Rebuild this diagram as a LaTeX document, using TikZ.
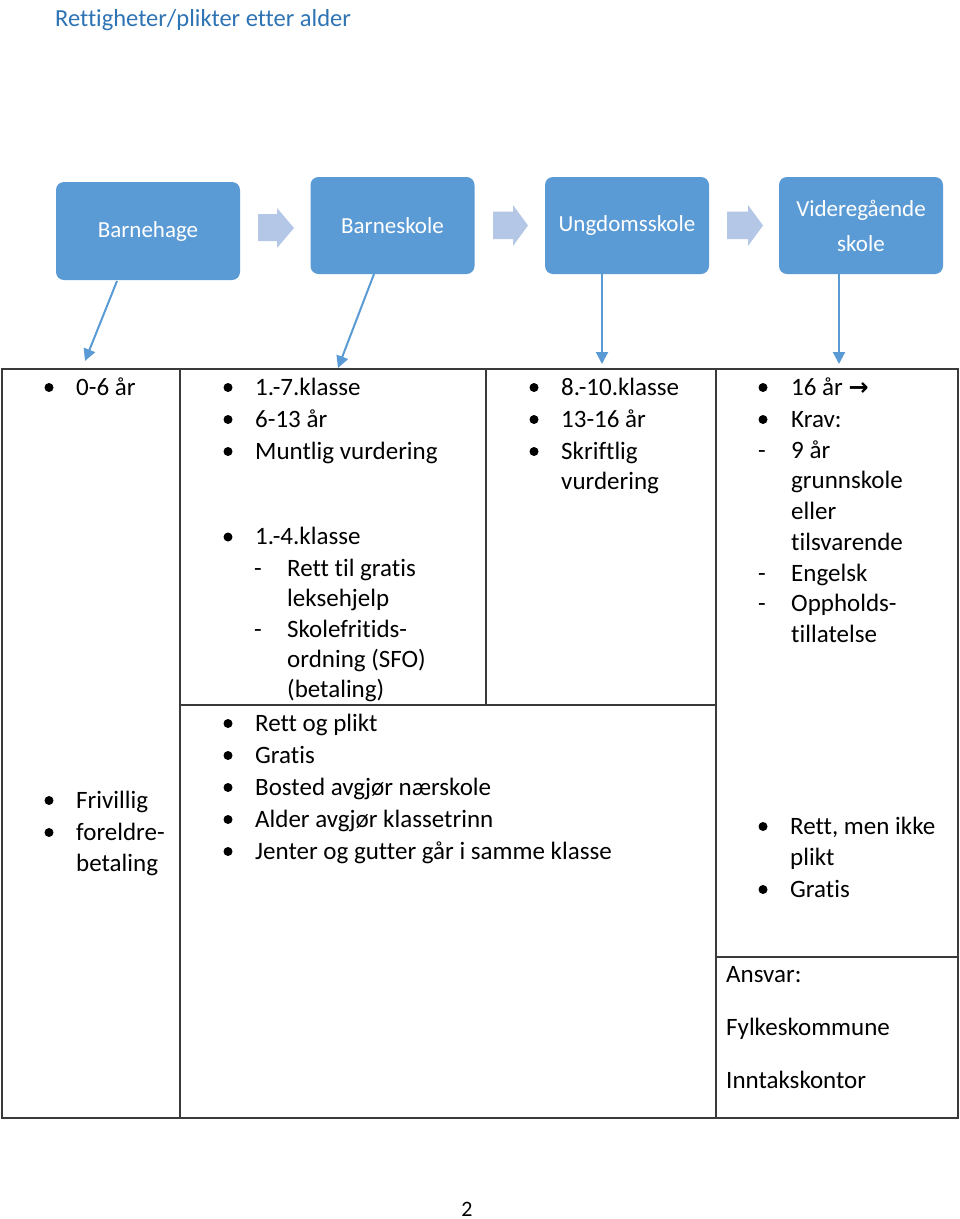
\documentclass[tikz,border=0pt]{standalone}
\usepackage{fontspec}
\setmainfont{Carlito}[Ligatures={NoCommon}]
\newfontfamily\dejavu{DejaVu Sans}
\usetikzlibrary{arrows.meta}
\definecolor{boxblue}{HTML}{5B9BD5}
\definecolor{lightblue}{HTML}{B4C7E7}
\definecolor{titleblue}{HTML}{2E74B5}
\definecolor{rule}{HTML}{3A3A3A}
\newcommand\bodyfont{\fontsize{25}{31}\selectfont}
\newcommand\boxfont{\fontsize{23}{35}\selectfont}
\begin{document}
\begin{tikzpicture}[x=1pt,y=-1pt,
  stage/.style={fill=boxblue, rounded corners=8pt, text=white, font=\boxfont, align=center, inner sep=0pt},
  blockarrow/.style={fill=lightblue, draw=none},
  thinarrow/.style={draw=boxblue, line width=2pt, -{Triangle[length=12pt,width=12pt]}},
  grid/.style={draw=rule, line width=1.3pt},
  txt/.style={anchor=base west, inner sep=0pt, font=\bodyfont},
  bul/.style={circle, fill=black, minimum size=9pt, inner sep=0pt},
  dsh/.style={anchor=base, inner sep=0pt, font=\bodyfont}]
\useasboundingbox (0,0) rectangle (960,1219);
\fill[white] (0,0) rectangle (960,1219);

% title
\node[txt, text=titleblue, font=\fontsize{24.5}{30}\selectfont] (title) at (55,26) {Rettigheter/plikter etter alder};

% stage boxes
\node[stage, minimum width=184pt, minimum height=98pt] (b1) at (148,231) {Barnehage};
\node[stage, minimum width=164pt, minimum height=97pt] (b2) at (392.5,225.5) {Barneskole};
\node[stage, minimum width=164pt, minimum height=97pt] (b3) at (627,225.5) {Ungdomsskole};
\node[stage, minimum width=164pt, minimum height=97pt] (b4) at (861,225.5) {Videregående\\skole};

% block arrows
\fill[blockarrow] (258,214) -- (277,214) -- (277,208) -- (294,228) -- (277,248) -- (277,241) -- (258,241) -- cycle;
\fill[blockarrow] (493,211.5) -- (513,211.5) -- (513,205) -- (528,225.5) -- (513,246) -- (513,239) -- (493,239) -- cycle;
\fill[blockarrow] (727,211.5) -- (748,211.5) -- (748,205) -- (763,225.5) -- (748,246) -- (748,239) -- (727,239) -- cycle;

% thin arrows
\coordinate (t1) at (85,361);
\coordinate (t2) at (338,368);
\coordinate (t3) at (602,364);
\coordinate (t4) at (839,364);
\draw[thinarrow] (117,281) -- (t1);
\draw[thinarrow] (374,274) -- (t2);
\draw[thinarrow] (b3.south -| t3) -- (t3);
\draw[thinarrow] (b4.south -| t4) -- (t4);

% table
\draw[grid] (2,369) rectangle (958,1118);
\draw[grid] (180,369) -- (180,1118);
\draw[grid] (716,369) -- (716,1118);
\draw[grid] (486,369) -- (486,705);
\draw[grid] (180,705) -- (716,705);
\draw[grid] (716,957) -- (958,957);

% column 1
\node[bul] (c1b1) at (49,387.5) {};
\node[txt] (c1t1) at (76,395) {0-6 år};
\node[bul] (c1b2) at (49,800.5) {};
\node[txt] (c1t2) at (76,808) {Frivillig};
\node[bul] (c1b3) at (49,832.5) {};
\node[txt] (c1t3) at (76,840) {foreldre-};
\node[txt] (c1t4) at (76,871) {betaling};

% column 2
\node[bul] (c2b1) at (228,387.5) {};
\node[txt] (c2t1) at (255,395) {1.-7.klasse};
\node[bul] (c2b2) at (228,419.5) {};
\node[txt] (c2t2) at (255,427) {6-13 år};
\node[bul] (c2b3) at (228,451.5) {};
\node[txt] (c2t3) at (255,459) {Muntlig vurdering};
\node[bul] (c2b4) at (228,537) {};
\node[txt] (c2t4) at (255,544.5) {1.-4.klasse};
\node[dsh] (c2d1) at (258,576) {-};
\node[txt] (c2t5) at (287,576) {Rett til gratis};
\node[txt] (c2t6) at (287,606) {leksehjelp};
\node[dsh] (c2d2) at (258,637) {-};
\node[txt] (c2t7) at (287,637) {Skolefritids-};
\node[txt] (c2t8) at (287,667) {ordning (SFO)};
\node[txt] (c2t9) at (287,697) {(betaling)};

% column 3
\node[bul] (c3b1) at (534,387.5) {};
\node[txt] (c3t1) at (561,395) {8.-10.klasse};
\node[bul] (c3b2) at (534,419.5) {};
\node[txt] (c3t2) at (561,427) {13-16 år};
\node[bul] (c3b3) at (534,451.5) {};
\node[txt] (c3t3) at (561,459) {Skriftlig};
\node[txt] (c3t4) at (561,489) {vurdering};

% column 4
\node[bul] (c4b1) at (763,387.5) {};
\node[txt] (c4t1) at (791,395) {16 år {\dejavu\bfseries\fontsize{24}{31}\selectfont →}};
\node[bul] (c4b2) at (763,419.5) {};
\node[txt] (c4t2) at (791,427) {Krav:};
\node[dsh] (c4d1) at (762,458) {-};
\node[txt] (c4t3) at (791,458) {9 år};
\node[txt] (c4t4) at (791,488.5) {grunnskole};
\node[txt] (c4t5) at (791,519) {eller};
\node[txt] (c4t6) at (791,550) {tilsvarende};
\node[dsh] (c4d2) at (762,581) {-};
\node[txt] (c4t7) at (791,581) {Engelsk};
\node[dsh] (c4d3) at (762,611) {-};
\node[txt] (c4t8) at (791,611) {Oppholds-};
\node[txt] (c4t9) at (791,642) {tillatelse};

\node[bul] (c4b3) at (763,826.5) {};
\node[txt] (c4t10) at (790,834) {Rett, men ikke};
\node[txt] (c4t11) at (790,865) {plikt};
\node[bul] (c4b4) at (763,889.5) {};
\node[txt] (c4t12) at (790,897) {Gratis};

% lower middle
\node[bul] (m1) at (228,723.5) {};
\node[txt] (mt1) at (255,731) {Rett og plikt};
\node[bul] (m2) at (228,755.5) {};
\node[txt] (mt2) at (255,763) {Gratis};
\node[bul] (m3) at (228,787.5) {};
\node[txt] (mt3) at (255,795) {Bosted avgjør nærskole};
\node[bul] (m4) at (228,819.5) {};
\node[txt] (mt4) at (255,827) {Alder avgjør klassetrinn};
\node[bul] (m5) at (228,851.5) {};
\node[txt] (mt5) at (255,859) {Jenter og gutter går i samme klasse};

% ansvar
\node[txt] (a1) at (726,982) {Ansvar:};
\node[txt] (a2) at (726,1035) {Fylkeskommune};
\node[txt] (a3) at (726,1088) {Inntakskontor};

% page number
\node[anchor=base, inner sep=0pt, font=\fontsize{22}{26}\selectfont] (pg) at (467,1216) {2};
\end{tikzpicture}
\end{document}
